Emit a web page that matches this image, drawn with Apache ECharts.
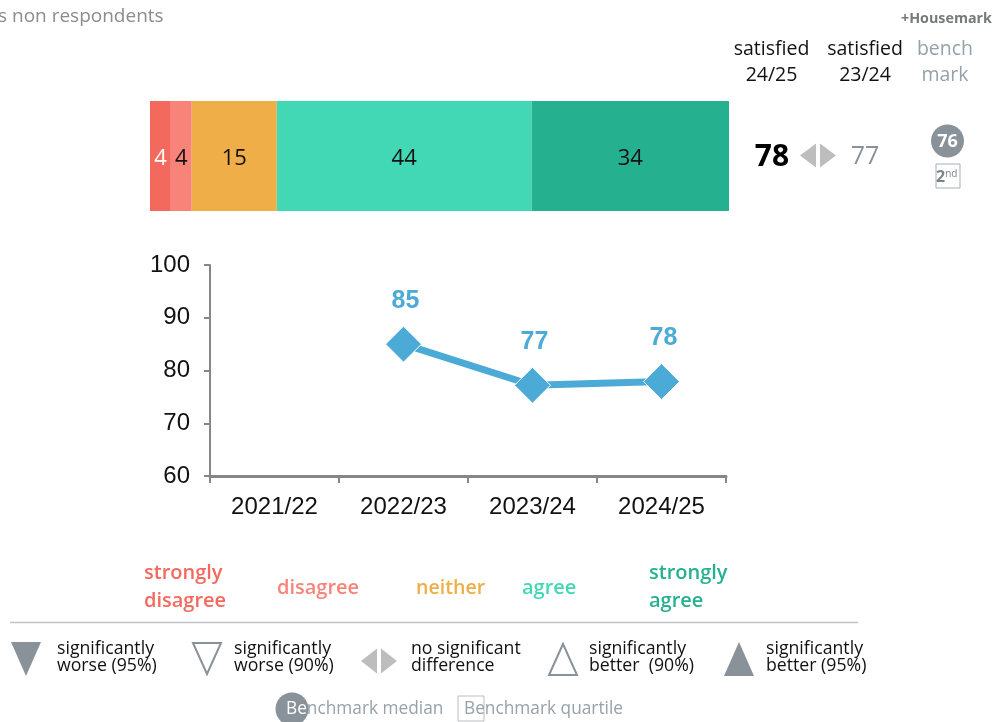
<!DOCTYPE html>
<html><head><meta charset="utf-8">
<style>html,body{margin:0;padding:0;background:#fff}#c{width:994px;height:722px}</style>
<script src="https://cdn.jsdelivr.net/npm/echarts@6/dist/echarts.min.js"></script></head>
<body><div id="c"></div>
<script>
const responseNames = ['strongly disagree','disagree','neither','agree','strongly agree'];
const responseValues = [3.6,3.6,14.7,44,34.1];
const responseLabels = ['4','4','15','44','34'];
const responseColors = ['#F4695E','#F88379','#EFAE47','#42D8B5','#25B08F'];
const labelColors = ['#ffffff','#111111','#111111','#111111','#111111'];
const years = ['2021/22','2022/23','2023/24','2024/25'];
const satisfied = [null,85,77.2,77.9];
const satisfiedLabels = [null,'85','77','78'];
const yTicks = {min:60,max:100,interval:10};
const current = '78', previous = '77', benchMedian = '76';

const UI = '"Open Sans","Noto Sans",sans-serif';
const AR = '"Liberation Sans",Arial,sans-serif';
const GREY = '#8A9299', ARROW = '#BDBDBD';

function txt(x,y,text,size,fill,opt){
  return {type:'text',x,y,silent:true,style:Object.assign({text,fontSize:size,fill,fontFamily:UI,
    textAlign:'left',textVerticalAlign:'middle'},opt||{})};
}
function poly(points,fill,stroke){
  return {type:'polygon',silent:true,shape:{points},style:{fill:fill||'none',stroke:stroke||null,lineWidth:stroke?2:0}};
}
function leftRight(cx,cy,w,h){
  return [poly([[cx-2,cy-h/2],[cx-2,cy+h/2],[cx-2-w,cy]],ARROW),
          poly([[cx+2,cy-h/2],[cx+2,cy+h/2],[cx+2+w,cy]],ARROW)];
}
const g = [
  txt(-2,16.5,'s non respondents',19,'#8C8C8C'),
  txt(901,18.5,'+Housemark',14.3,'#77797B',{fontWeight:700,letterSpacing:-0.7}),
  txt(771.5,49,'satisfied',19.5,'#111',{textAlign:'center'}),
  txt(771.5,75,'24/25',19.5,'#111',{textAlign:'center'}),
  txt(865,49,'satisfied',19.5,'#111',{textAlign:'center'}),
  txt(865,75,'23/24',19.5,'#111',{textAlign:'center'}),
  txt(945,49,'bench',19.5,'#97A1AA',{textAlign:'center'}),
  txt(945,75,'mark',19.5,'#97A1AA',{textAlign:'center'}),
  txt(772,157,current,30,'#000',{textAlign:'center',fontWeight:700}),
  txt(865,157,previous,25,'#8A9299',{textAlign:'center'}),
  ...leftRight(818,155.5,16,24),
  {type:'circle',silent:true,shape:{cx:947.5,cy:141,r:16.5},style:{fill:GREY}},
  txt(947.5,142,benchMedian,18,'#fff',{textAlign:'center',fontWeight:700}),
  {type:'rect',silent:true,shape:{x:936,y:164,width:24,height:24},style:{fill:'#fff',stroke:'#A9AFB4',lineWidth:1}},
  {type:'text',x:936,y:177,silent:true,style:{rich:{a:{fontSize:16,fontWeight:700,fill:'#7C848B',fontFamily:UI},b:{fontSize:10,fill:'#7C848B',fontFamily:UI,verticalAlign:'top',padding:[0,0,6,0]}},text:'{a|2}{b|nd}',textVerticalAlign:'middle'}},

  txt(144,573.5,'strongly',20,responseColors[0],{fontWeight:600}),
  txt(144,601.5,'disagree',20,responseColors[0],{fontWeight:600}),
  txt(277,588,'disagree',20,responseColors[1],{fontWeight:600}),
  txt(416,588,'neither',19.6,responseColors[2],{fontWeight:600}),
  txt(522,588,'agree',20,responseColors[3],{fontWeight:600}),
  txt(649,573.5,'strongly',20,responseColors[4],{fontWeight:600}),
  txt(649,601.5,'agree',20,responseColors[4],{fontWeight:600}),

  {type:'line',silent:true,shape:{x1:10,y1:622.5,x2:858,y2:622.5},style:{stroke:'#BFC3C6',lineWidth:1.5}},

  poly([[11,642],[41,642],[26,676]],GREY),
  txt(57,649,'significantly',17.7,'#111'),
  txt(57,666,'worse (95%)',17.7,'#111'),
  poly([[193,643],[221,643],[207,674]],null,GREY),
  txt(234,649,'significantly',17.7,'#111'),
  txt(234,666,'worse (90%)',17.7,'#111'),
  ...leftRight(379,661,16,25),
  txt(411,649,'no significant',17.7,'#111'),
  txt(411,666,'difference',17.7,'#111'),
  poly([[549,675],[577,675],[563,644]],null,GREY),
  txt(589,649,'significantly',17.7,'#111'),
  txt(589,666,'better  (90%)',17.7,'#111'),
  poly([[724,676],[754,676],[739,642]],GREY),
  txt(766,649,'significantly',17.7,'#111'),
  txt(766,666,'better (95%)',17.7,'#111'),

  {type:'circle',silent:true,shape:{cx:292,cy:709,r:16.5},style:{fill:GREY}},
  {type:'rect',silent:true,shape:{x:458,y:696,width:26,height:25},style:{fill:'#fff',stroke:'#B9BEC2',lineWidth:1}},
  {type:'text',x:286,y:709,silent:true,style:{rich:{w:{fill:'#fff',fontSize:17.3,fontFamily:UI},g:{fill:'#97A1AA',fontSize:17.3,fontFamily:UI}},text:'{w|Be}{g|nchmark median}',textVerticalAlign:'middle'}},
  txt(464,709,'Benchmark quartile',17.3,'#97A1AA')
];

const barSeries = responseNames.map((name,i)=>({
  name,type:'bar',stack:'r',xAxisIndex:0,yAxisIndex:0,barWidth:110,
  data:[responseValues[i]],itemStyle:{color:responseColors[i]},
  label:{show:true,position:'inside',offset:[0,3],formatter:()=>responseLabels[i],color:labelColors[i],fontSize:22,fontFamily:UI},
  emphasis:{disabled:true}
}));

const chart = echarts.init(document.getElementById('c'),null,{renderer:'canvas'});
chart.setOption({
  animation:false,backgroundColor:'#fff',
  grid:[{left:150,top:101,width:579,height:110},{left:210,top:265,width:516,height:211}],
  xAxis:[
    {gridIndex:0,type:'value',min:0,max:100,show:false},
    {gridIndex:1,type:'category',data:years,boundaryGap:true,
      axisLine:{lineStyle:{color:'#868686',width:3}},
      axisTick:{show:true,alignWithLabel:false,length:7,lineStyle:{color:'#868686',width:2}},
      axisLabel:{color:'#111',fontSize:24,fontFamily:AR,margin:19,interval:0}}
  ],
  yAxis:[
    {gridIndex:0,type:'category',data:['r'],show:false},
    {gridIndex:1,type:'value',min:yTicks.min,max:yTicks.max,interval:yTicks.interval,
      axisLine:{show:true,lineStyle:{color:'#868686',width:2}},
      axisTick:{show:true,length:6,lineStyle:{color:'#868686',width:2}},
      splitLine:{show:false},
      axisLabel:{color:'#111',fontSize:24,fontFamily:AR,margin:20}}
  ],
  series:[...barSeries,{
    type:'line',xAxisIndex:1,yAxisIndex:1,data:satisfied,connectNulls:false,
    symbol:'diamond',symbolSize:36,
    lineStyle:{color:'#4BABD6',width:7},
    itemStyle:{color:'#4BABD6',borderColor:'#fff',borderWidth:1},
    label:{show:true,position:'top',distance:12,offset:[2,0],color:'#4BABD6',fontSize:25,fontWeight:700,fontFamily:AR,
      formatter:p=>satisfiedLabels[p.dataIndex]},
    emphasis:{disabled:true}
  }],
  graphic:{elements:g}
});
</script></body></html>
